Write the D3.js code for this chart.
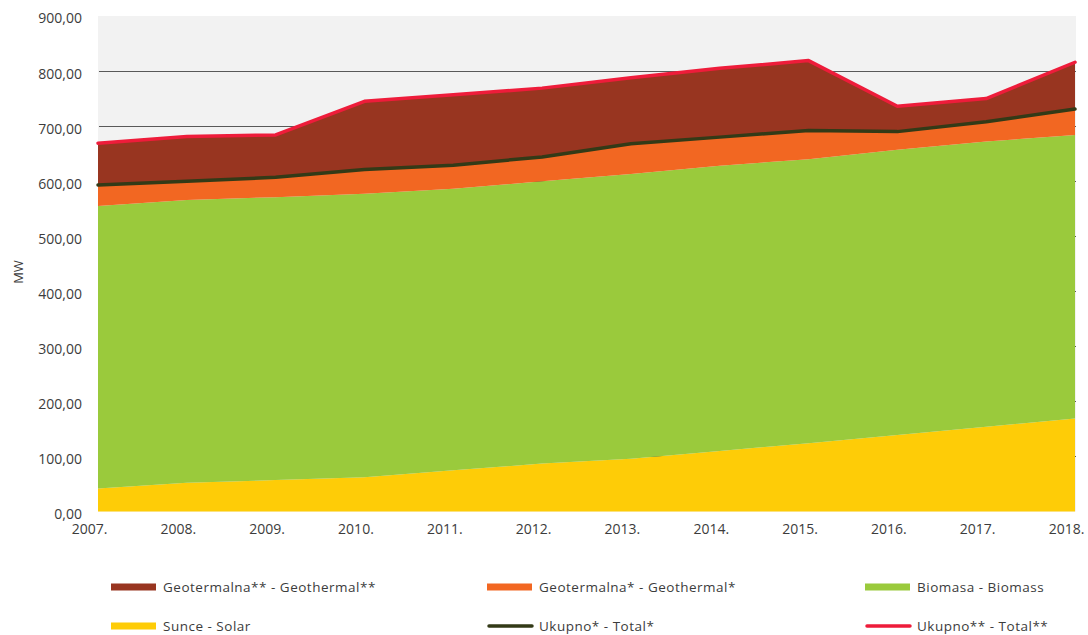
<!DOCTYPE html>
<html>
<head>
<meta charset="utf-8">
<script src="https://cdn.jsdelivr.net/npm/d3@7"></script>
<style>
  html, body { margin: 0; padding: 0; background: #fff; }
  svg { display: block; font-family: "Open Sans", sans-serif; }
</style>
</head>
<body>
<div id="chart"></div>
<script>
// Instalirana snaga OIE, MW
var years = ['2007.', '2008.', '2009.', '2010.', '2011.', '2012.', '2013.', '2014.', '2015.', '2016.', '2017.', '2018.'];
var solar = [42, 52, 57, 62, 75, 87, 96, 110, 124, 139, 154, 169];
var biomass = [513, 514, 514, 515, 511, 513, 517, 518, 516, 518, 518, 515];
var geoOne = [38, 34, 36, 44, 43, 44, 55, 52, 52, 33, 36, 47];
var geoTwo = [76, 81, 77, 124, 128, 125, 120, 125, 127, 46, 42, 85];
var yTicks = [0, 100, 200, 300, 400, 500, 600, 700, 800, 900];

var keys = ['solar', 'biomass', 'geoOne', 'geoTwo'];
var colors = { solar: '#fecc07', biomass: '#9aca3c', geoOne: '#f26722', geoTwo: '#983520' };

var rows = years.map(function(y, i) {
  return { year: y, solar: solar[i], biomass: biomass[i], geoOne: geoOne[i], geoTwo: geoTwo[i] };
});

var width = 1088, height = 635;
var plotLeft = 98, plotRight = 1076, plotTop = 16, plotBottom = 511.5;

var svg = d3.select('#chart').append('svg')
  .attr('width', width).attr('height', height);

var x = d3.scalePoint().domain(years).range([plotLeft, 1075]);
var y = d3.scaleLinear().domain([0, 900]).range([plotBottom, plotTop]);

// plot background
svg.append('rect')
  .attr('x', plotLeft).attr('y', plotTop)
  .attr('width', plotRight - plotLeft).attr('height', plotBottom - plotTop)
  .attr('fill', '#f2f2f2');

// gridlines
svg.append('g').selectAll('line')
  .data(yTicks.filter(function(t) { return t > 0 && t < 900; }))
  .enter().append('line')
  .attr('x1', plotLeft + 1).attr('x2', plotRight)
  .attr('y1', function(d) { return Math.round(y(d)) + 0.5; })
  .attr('y2', function(d) { return Math.round(y(d)) + 0.5; })
  .attr('stroke', '#595959').attr('stroke-width', 1);

var series = d3.stack().keys(keys)(rows);

var area = d3.area()
  .x(function(d) { return x(d.data.year); })
  .y0(function(d) { return y(d[0]); })
  .y1(function(d) { return y(d[1]); });

svg.append('g').selectAll('path')
  .data(series)
  .enter().append('path')
  .attr('d', area)
  .attr('fill', function(d) { return colors[d.key]; });

// total lines
var line = d3.line()
  .x(function(d) { return x(d.data.year); })
  .y(function(d) { return y(d[1]); });

svg.append('path')
  .datum(series[2])
  .attr('d', line)
  .attr('fill', 'none')
  .attr('stroke', '#333a17')
  .attr('stroke-width', 3.5)
  .attr('stroke-linejoin', 'round')
  .attr('stroke-linecap', 'round');

svg.append('path')
  .datum(series[3])
  .attr('d', line)
  .attr('fill', 'none')
  .attr('stroke', '#ee1c3a')
  .attr('stroke-width', 3.5)
  .attr('stroke-linejoin', 'round')
  .attr('stroke-linecap', 'round');

// y axis labels
var fmt = function(v) { return d3.format('.2f')(v).replace('.', ','); };
var yAxis = d3.axisLeft(y).tickValues(yTicks).tickFormat(fmt).tickSize(0).tickPadding(0);
svg.append('g')
  .attr('transform', 'translate(82,2.5)')
  .call(yAxis)
  .call(function(g) {
    g.select('.domain').remove();
    g.selectAll('text').attr('font-size', '14px').attr('fill', '#3c3c3c')
      .attr('font-family', '"Open Sans", sans-serif');
  });

// x axis labels
var xAxis = d3.axisBottom(x).tickSize(0).tickPadding(0);
svg.append('g')
  .attr('transform', 'translate(-9,' + 524 + ')')
  .call(xAxis)
  .call(function(g) {
    g.select('.domain').remove();
    g.selectAll('text').attr('font-size', '14px').attr('fill', '#3c3c3c')
      .attr('font-family', '"Open Sans", sans-serif');
  });

// axis title
svg.append('text')
  .attr('transform', 'translate(23,272) rotate(-90)')
  .attr('text-anchor', 'middle')
  .attr('font-size', '13px')
  .attr('fill', '#3c3c3c')
  .text('MW');

// legend
var legend = [
  { label: 'Geotermalna** - Geothermal**', color: colors.geoTwo, type: 'rect', col: 0, row: 0 },
  { label: 'Geotermalna* - Geothermal*', color: colors.geoOne, type: 'rect', col: 1, row: 0 },
  { label: 'Biomasa - Biomass', color: colors.biomass, type: 'rect', col: 2, row: 0 },
  { label: 'Sunce - Solar', color: colors.solar, type: 'rect', col: 0, row: 1 },
  { label: 'Ukupno* - Total*', color: '#333a17', type: 'line', col: 1, row: 1 },
  { label: 'Ukupno** - Total**', color: '#ee1c3a', type: 'line', col: 2, row: 1 }
];
var colX = [111, 487, 865];
var rowY = [587, 626];

var items = svg.append('g').selectAll('g')
  .data(legend)
  .enter().append('g')
  .attr('transform', function(d) { return 'translate(' + colX[d.col] + ',' + rowY[d.row] + ')'; });

items.filter(function(d) { return d.type === 'rect'; })
  .append('rect')
  .attr('x', 0).attr('y', -3.5).attr('width', 45).attr('height', 7)
  .attr('fill', function(d) { return d.color; });

items.filter(function(d) { return d.type === 'line'; })
  .append('line')
  .attr('x1', 2).attr('x2', 45).attr('y1', 0).attr('y2', 0)
  .attr('stroke', function(d) { return d.color; })
  .attr('stroke-width', 3.5)
  .attr('stroke-linecap', 'round');

items.append('text')
  .attr('x', 52)
  .attr('dy', '0.35em')
  .attr('font-size', '13.5px')
  .attr('letter-spacing', '0.5px')
  .attr('fill', '#3c3c3c')
  .text(function(d) { return d.label; });
</script>
</body>
</html>
